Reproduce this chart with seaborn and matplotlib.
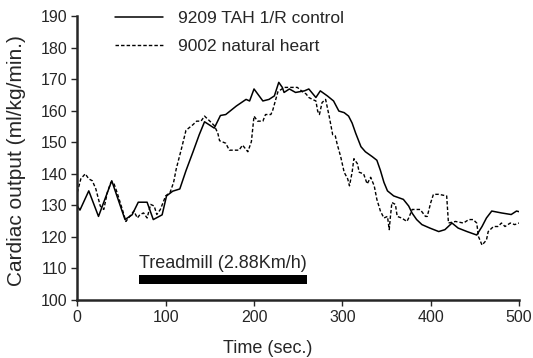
import matplotlib
matplotlib.use("Agg")
from matplotlib import pyplot as plt
import seaborn as sns
import pandas as pd

# 9209 TAH 1/R control (solid)
tah_time = [0, 3, 13, 24, 39, 54, 62, 69, 79, 86,
            96, 101, 108, 116, 123, 131, 138, 144, 155, 162,
            168, 180, 191, 195, 200, 210, 217, 223, 228, 232,
            234, 240, 247, 257, 262, 270, 275, 283, 290, 296,
            302, 307, 311, 315, 321, 326, 334, 339, 343, 347,
            351, 358, 369, 375, 379, 384, 390, 399, 409, 416,
            424, 431, 441, 452, 458, 463, 469, 480, 491, 497,
            500]
tah_output = [129.8, 128.5, 134.6, 126.5, 137.8, 125.5, 127, 131, 131, 125.5,
              127, 133, 134.5, 135.2, 141, 147, 152.4, 156.5, 154.5, 158.5,
              158.8, 161.5, 163.6, 163.1, 166.9, 163.1, 163.6, 164.7, 169, 167.4,
              165.8, 166.9, 165.8, 166.3, 166.9, 164.2, 166.3, 164.7, 163.1, 159.9,
              159.4, 158.3, 156.1, 152.9, 148.6, 147, 145.4, 144.3, 141.1, 137.3,
              134.6, 133, 131.9, 129.8, 127.5, 125.5, 123.9, 122.8, 121.7, 122.3,
              124.4, 122.8, 121.7, 120.6, 123.3, 126, 128.2, 127.6, 127.1, 128.2,
              128]

# 9002 natural heart (dashed)
nat_time = [0, 4, 9, 13, 17, 21, 26, 30, 34, 38,
            41, 45, 51, 55, 58, 64, 68, 71, 75, 79,
            83, 87, 90, 94, 100, 105, 109, 112, 118, 123,
            131, 135, 140, 144, 150, 155, 159, 161, 168, 172,
            183, 187, 193, 197, 200, 204, 210, 213, 219, 221,
            227, 234, 242, 249, 255, 259, 262, 266, 270, 272,
            274, 277, 281, 285, 289, 292, 294, 298, 302, 306,
            308, 311, 313, 317, 319, 324, 328, 332, 336, 339,
            343, 347, 351, 353, 354, 356, 360, 362, 367, 373,
            375, 379, 388, 394, 396, 400, 403, 409, 418, 420,
            428, 437, 443, 448, 452, 454, 458, 463, 465, 471,
            476, 480, 484, 490, 495, 500]
nat_output = [134.1, 138.4, 140, 138.4, 137.8, 135.2, 129.8, 128.7, 134.1, 137.3,
              137.3, 134.1, 128.7, 124.9, 126, 128.2, 126, 127.1, 127.6, 126,
              130.3, 129.8, 127.1, 128.7, 133, 134.1, 137.3, 141.6, 148.1, 153.8,
              155.6, 156.7, 156.7, 158.3, 156.7, 155.3, 152.9, 150.5, 149.7, 147.5,
              147.5, 149.1, 147, 150.2, 158.3, 156.7, 156.7, 158.8, 158.8, 160,
              166, 167.4, 167.4, 167.4, 166, 165.3, 164.2, 163.6, 163.1, 159.9,
              158.8, 162.6, 163.6, 158.3, 152.4, 152, 149.5, 145.5, 140.5, 138.4,
              136.2, 140.5, 144.8, 143.2, 140.5, 140, 136.8, 138.9, 136.2, 131.9,
              128.2, 126, 126.5, 122.3, 125.5, 130.9, 130.3, 126.5, 126, 124.9,
              126, 128.7, 128.7, 126.5, 126.5, 130.9, 133.5, 133.5, 133, 124.4,
              124.9, 124.4, 125.5, 125.5, 124.4, 120.1, 117.4, 119, 121.7, 123.3,
              123.3, 124.4, 123.3, 124.4, 123.9, 124.4]

treadmill_span = [70, 260]
treadmill_level = [105.2, 107.8]
treadmill_label = "Treadmill (2.88Km/h)"

x_ticks = [0, 100, 200, 300, 400, 500]
y_ticks = [100, 110, 120, 130, 140, 150, 160, 170, 180, 190]

sns.set_style("ticks")
plt.rcParams["font.family"] = ["Liberation Sans", "DejaVu Sans"]

df_tah = pd.DataFrame({"t": tah_time, "v": tah_output})
df_nat = pd.DataFrame({"t": nat_time, "v": nat_output})

fig = plt.figure(figsize=(5.33, 3.58), dpi=100)
ax = fig.add_axes([0.145, 0.162, 0.829, 0.793])

sns.lineplot(x="t", y="v", data=df_tah, ax=ax, color="black", linewidth=1.1,
             label="9209 TAH 1/R control")
sns.lineplot(x="t", y="v", data=df_nat, ax=ax, color="black", linewidth=1.0,
             linestyle=(0, (2.5, 1.5)), label="9002 natural heart")

# treadmill bar
ax.fill_between(treadmill_span, treadmill_level[0], treadmill_level[1],
                color="black", linewidth=0)
ax.text(treadmill_span[0], 111.6, treadmill_label, fontsize=13, ha="left", va="center")

ax.set_xlim(0, 500)
ax.set_ylim(100, 190)
ax.set_xticks(x_ticks)
ax.set_yticks(y_ticks)
ax.tick_params(labelsize=11.5, length=4, width=1, direction="out", pad=3)
ax.set_xlabel("Time (sec.)", fontsize=13)
ax.set_ylabel("Cardiac output (ml/kg/min.)", fontsize=15)
ax.xaxis.set_label_coords(0.43, -0.142)
ax.yaxis.set_label_coords(-0.115, 0.49)

sns.despine(ax=ax)
for side in ["left", "bottom"]:
    ax.spines[side].set_linewidth(1.8)

ax.legend(loc="upper left", bbox_to_anchor=(0.086, 1.02), frameon=False,
          fontsize=12.5, handlelength=2.76, handletextpad=0.86,
          labelspacing=0.75, borderpad=0, borderaxespad=0)

fig.savefig("out.png", dpi=100)
plt.close(fig)
